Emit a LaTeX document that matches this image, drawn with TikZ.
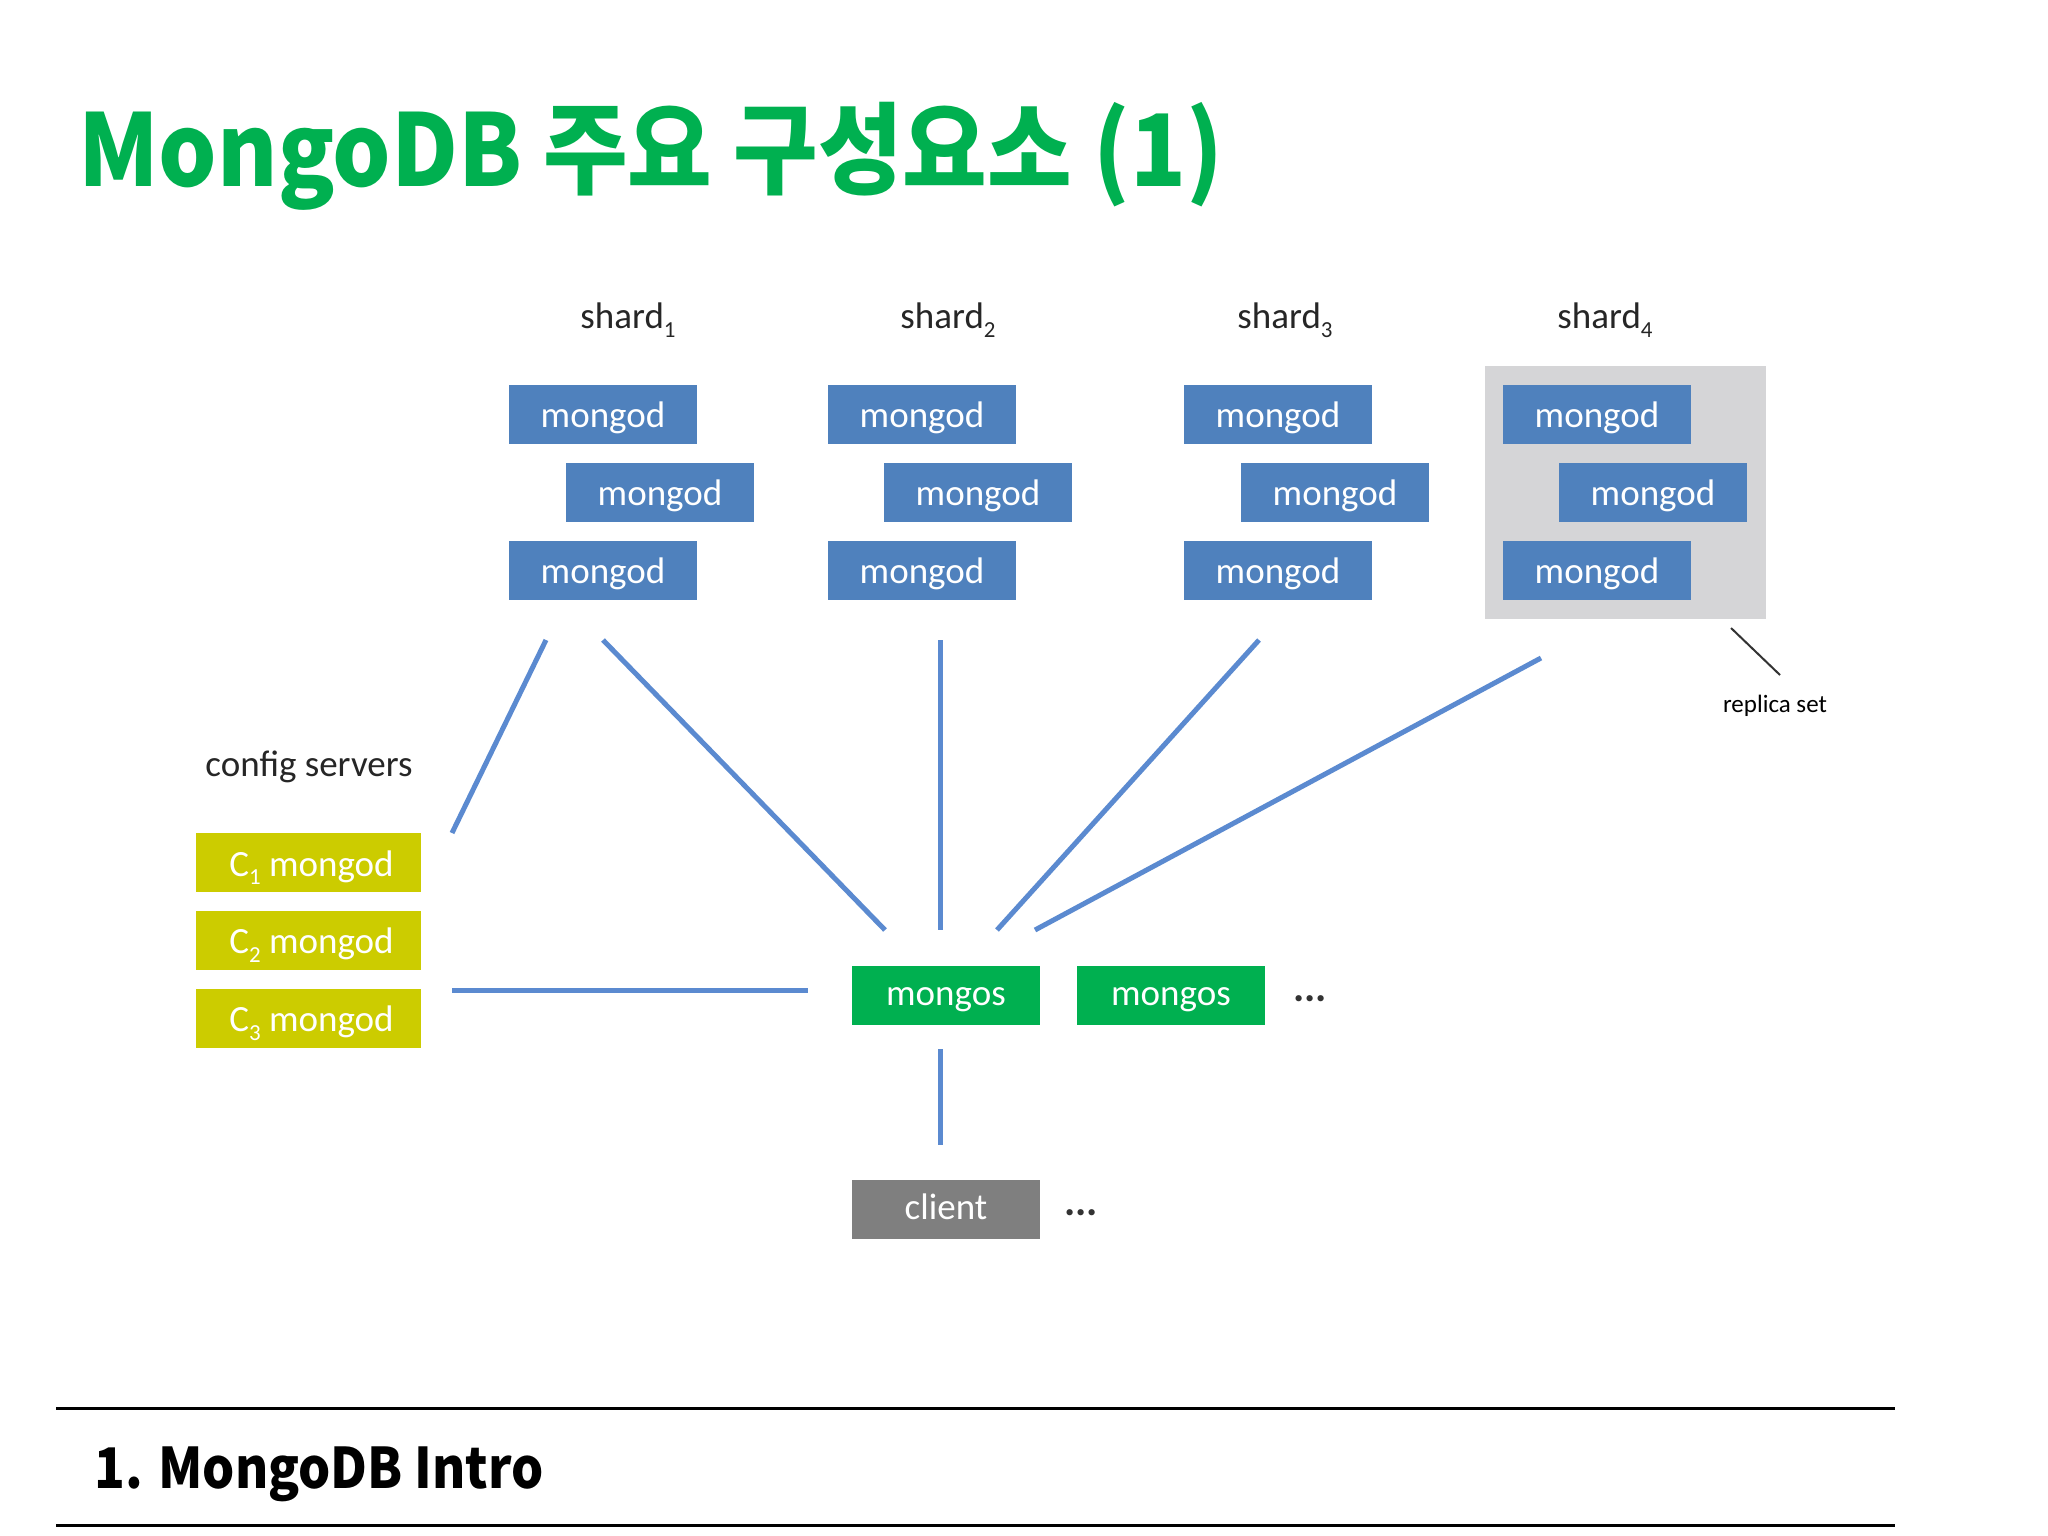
\documentclass[tikz,border=0pt]{standalone}
\usepackage{fontspec}
\usepackage{graphicx}
\setmainfont{Carlito}
\newfontfamily\krfont{Noto Sans CJK KR}
\definecolor{boxblue}{HTML}{4F81BD}
\definecolor{lineblue}{HTML}{5B8AD0}
\definecolor{cfgyellow}{HTML}{CCCC00}
\definecolor{msgreen}{HTML}{00B050}
\definecolor{cligrey}{HTML}{7F7F7F}
\definecolor{setgrey}{HTML}{D5D5D7}
\newcommand\subn[1]{\raisebox{-.24em}{\scalebox{.62}{#1}}}
\tikzset{
  basebox/.style={minimum width=188pt,minimum height=59pt,inner sep=0pt,text=white,text height=36pt,text depth=9pt,font=\fontsize{37}{40}\selectfont},
  mongodbox/.style={basebox,fill=boxblue},
  cfgbox/.style={basebox,fill=cfgyellow,minimum width=225pt},
  msbox/.style={basebox,fill=msgreen,text height=32pt,text depth=11.5pt},
  clibox/.style={basebox,fill=cligrey,text height=32pt,text depth=11.5pt},
  hdr/.style={inner sep=0pt,text=black!85,font=\fontsize{37}{40}\selectfont},
  dotsl/.style={inner sep=0pt,font=\bfseries\fontsize{42}{44}\selectfont,text=black!80},
  link/.style={draw=lineblue,line width=5pt},
  rulel/.style={draw=black,line width=3pt}
}
\begin{document}
\begin{tikzpicture}[x=1pt,y=-1pt]
\useasboundingbox (0,0) rectangle (2048,1536);
\fill[white] (0,0) rectangle (2048,1536);

% title and footer
\node[anchor=west,inner sep=0pt,text=msgreen] (title) at (78,156)
  {\scalebox{.92}[1]{\krfont\bfseries\fontsize{100}{110}\selectfont MongoDB 주요 구성요소 (1)}};
\node[anchor=west,inner sep=0pt,text=black] (footer) at (94,1474)
  {\scalebox{.905}[1]{\krfont\bfseries\fontsize{56}{60}\selectfont 1. MongoDB Intro}};
\coordinate (r1a) at (56,1408); \coordinate (r1b) at (1895,1408);
\coordinate (r2a) at (56,1525); \coordinate (r2b) at (1895,1525);
\draw[rulel] (r1a) -- (r1b);
\draw[rulel] (r2a) -- (r2b);

% replica-set backdrop
\node[fill=setgrey,minimum width=281pt,minimum height=253pt,inner sep=0pt] (repl) at (1625.5,492.5) {};

% shard headers
\node[hdr] (h1) at (628,320) {shard\subn{1}};
\node[hdr] (h2) at (948,320) {shard\subn{2}};
\node[hdr] (h3) at (1285,320) {shard\subn{3}};
\node[hdr] (h4) at (1605,320) {shard\subn{4}};

% shards
\node[mongodbox] (s1a) at (603,414) {mongod};
\node[mongodbox] (s1b) at (660,492) {mongod};
\node[mongodbox] (s1c) at (603,570) {mongod};
\node[mongodbox] (s2a) at (922,414) {mongod};
\node[mongodbox] (s2b) at (978,492) {mongod};
\node[mongodbox] (s2c) at (922,570) {mongod};
\node[mongodbox] (s3a) at (1278,414) {mongod};
\node[mongodbox] (s3b) at (1335,492) {mongod};
\node[mongodbox] (s3c) at (1278,570) {mongod};
\node[mongodbox] (s4a) at (1597,414) {mongod};
\node[mongodbox] (s4b) at (1653,492) {mongod};
\node[mongodbox] (s4c) at (1597,570) {mongod};

% config servers
\node[hdr] (cfg) at (309,767) {config servers};
\node[cfgbox] (c1) at (308,862.5) {\hspace{7pt}C\subn{1} mongod};
\node[cfgbox] (c2) at (308,940) {\hspace{7pt}C\subn{2} mongod};
\node[cfgbox] (c3) at (308,1018) {\hspace{7pt}C\subn{3} mongod};

% routers and client
\node[msbox] (ms1) at (946,995) {mongos};
\node[msbox] (ms2) at (1171,995) {mongos};
\node[clibox] (cli) at (946,1209) {client};
\node[dotsl] (dots1) at (1310,999) {...};
\node[dotsl] (dots2) at (1081,1213) {...};

% replica set label
\node[inner sep=0pt,font=\fontsize{25}{28}\selectfont,text=black] (rs) at (1775,706) {replica set};
\coordinate (rsa) at (1731,628); \coordinate (rsb) at (1780,675);
\draw[draw=black!80,line width=2pt] (rsa) -- (rsb);

% connector free ends
\coordinate (e1) at (546,640); \coordinate (e2) at (452,833);
\coordinate (e3) at (603,640); \coordinate (e4) at (885,930);
\coordinate (e5) at (940.5,640); \coordinate (e6) at (940.5,930);
\coordinate (e7) at (1259,640); \coordinate (e8) at (997,930);
\coordinate (e9) at (1541,658); \coordinate (e10) at (1035,930);
\coordinate (e11) at (452,990); \coordinate (e12) at (808,990);
\coordinate (e13) at (940.5,1049); \coordinate (e14) at (940.5,1145);
\draw[link] (e1) -- (e2);
\draw[link] (e3) -- (e4);
\draw[link] (e5) -- (e6);
\draw[link] (e7) -- (e8);
\draw[link] (e9) -- (e10);
\draw[link] (e11) -- (e12);
\draw[link] (e13) -- (e14);
\end{tikzpicture}
\end{document}
